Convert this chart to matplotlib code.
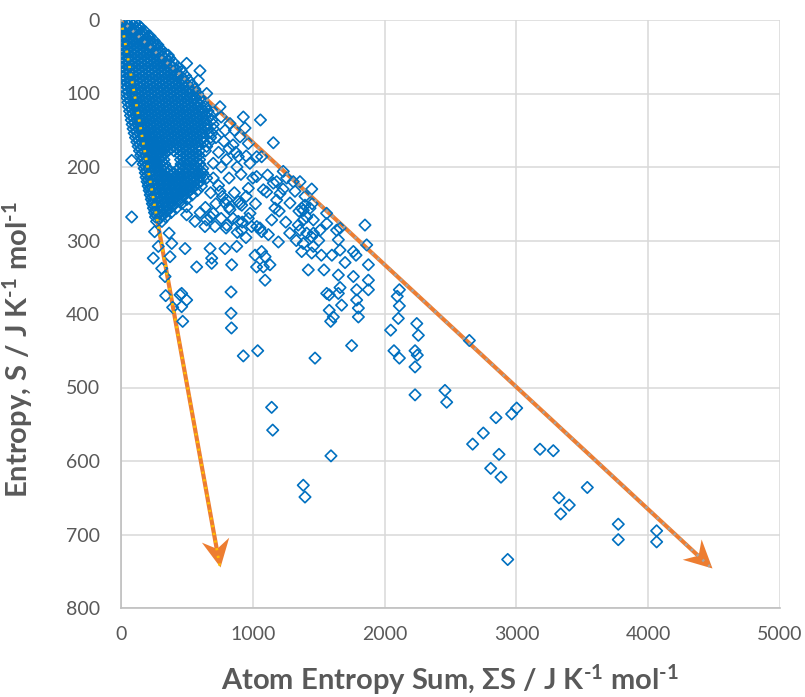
import numpy as np
import matplotlib
matplotlib.use("Agg")
import matplotlib.pyplot as plt
from matplotlib.patches import FancyArrowPatch
from matplotlib.markers import MarkerStyle
from matplotlib.path import Path
from matplotlib.transforms import Affine2D

plt.rcParams['font.family'] = ['Lato', 'DejaVu Sans']
plt.rcParams['mathtext.fontset'] = 'custom'
plt.rcParams['mathtext.rm'] = 'Lato:bold'
plt.rcParams['mathtext.default'] = 'rm'

# dense core of the cloud: entropy -> atom entropy sums at that level
core_rows = {
    4: [0, 35, 75, 110],
    10: [0, 40, 80, 118, 150],
    16: [2, 42, 85, 125, 160, 185],
    22: [4, 45, 88, 130, 170, 205, 220],
    28: [5, 48, 92, 135, 178, 215, 250],
    34: [6, 50, 95, 140, 185, 228, 262, 280],
    40: [7, 52, 98, 145, 190, 235, 272, 305],
    46: [8, 55, 100, 148, 195, 240, 285, 335],
    52: [9, 58, 104, 150, 198, 245, 292, 335, 370],
    58: [10, 60, 106, 155, 202, 250, 296, 342, 400],
    64: [12, 62, 110, 158, 205, 255, 300, 348, 392, 430],
    70: [15, 64, 112, 160, 210, 258, 305, 352, 398, 460],
    76: [18, 66, 115, 165, 212, 262, 310, 358, 405, 450, 490],
    82: [22, 70, 118, 168, 216, 265, 314, 362, 410, 458, 515],
    88: [26, 74, 122, 172, 220, 270, 318, 366, 415, 462, 505, 540],
    94: [30, 78, 126, 176, 225, 274, 322, 370, 420, 468, 512, 560],
    100: [38, 84, 132, 180, 230, 278, 326, 375, 424, 472, 520, 580],
    106: [45, 90, 138, 186, 235, 284, 332, 380, 428, 476, 525, 565, 600],
    112: [52, 96, 144, 192, 240, 288, 336, 385, 432, 480, 530, 575, 620],
    118: [58, 102, 150, 198, 246, 294, 342, 390, 438, 486, 535, 582, 640],
    124: [65, 108, 156, 204, 252, 300, 348, 396, 444, 492, 540, 590, 632, 660],
    130: [72, 115, 162, 210, 258, 306, 354, 402, 450, 498, 546, 595, 640, 680],
    136: [78, 122, 168, 216, 264, 312, 360, 408, 456, 504, 552, 600, 648, 690],
    142: [85, 128, 175, 222, 270, 318, 366, 414, 462, 510, 558, 605, 655, 700],
    148: [92, 135, 182, 228, 276, 324, 372, 420, 468, 516, 564, 612, 660, 700],
    154: [100, 142, 188, 235, 282, 330, 378, 426, 474, 522, 570, 618, 665, 690],
    160: [110, 150, 195, 242, 288, 336, 384, 432, 480, 528, 576, 625, 680],
    166: [120, 160, 204, 250, 296, 342, 390, 438, 486, 534, 582, 630, 670],
    172: [130, 170, 214, 258, 304, 350, 396, 444, 492, 540, 588, 650],
    178: [140, 180, 222, 266, 312, 356, 402, 450, 498, 546, 594, 640],
    184: [150, 192, 232, 276, 320, 448, 496, 544, 592],
    190: [160, 200, 242, 286, 326, 452, 500, 548, 596],
    196: [168, 208, 250, 294, 332, 456, 504, 552, 598],
    202: [176, 216, 258, 302, 345, 440, 488, 536, 584, 620],
    208: [184, 224, 266, 310, 354, 400, 446, 494, 542, 590, 620],
    214: [190, 232, 274, 318, 362, 408, 454, 500, 548, 596, 620],
    220: [198, 240, 282, 326, 370, 414, 460, 506, 554, 600],
    226: [206, 248, 290, 334, 378, 422, 468, 514, 560, 610],
    232: [214, 256, 298, 342, 386, 430, 476, 522, 580],
    238: [222, 264, 306, 350, 394, 438, 484, 540],
    244: [230, 272, 314, 358, 402, 446, 500],
    250: [238, 280, 322, 366, 410, 460],
    256: [246, 288, 330, 374, 420],
    262: [254, 296, 338, 380],
    268: [262, 302, 340],
    274: [270, 310],
}

# more points packed between the core rows (the core is solid in the original)
core_fill = {
    7: [18, 55, 92],
    13: [20, 60, 100, 135],
    19: [22, 64, 106, 145, 175],
    25: [25, 68, 112, 155, 195],
    31: [28, 72, 118, 162, 206, 245],
    37: [30, 75, 122, 168, 212, 255],
    43: [32, 78, 124, 172, 218, 262, 300],
    49: [34, 80, 126, 174, 222, 268, 312],
    55: [35, 82, 130, 178, 226, 272, 318, 360],
    61: [36, 84, 132, 180, 230, 278, 325, 370],
    67: [38, 88, 136, 184, 234, 282, 330, 375, 420],
    73: [40, 90, 138, 186, 236, 284, 330, 378, 425],
    79: [42, 92, 140, 190, 240, 288, 336, 384, 432, 470],
    85: [48, 96, 145, 194, 244, 292, 342, 390, 438, 485],
    91: [52, 100, 150, 198, 248, 296, 345, 394, 442, 490],
    97: [58, 108, 156, 205, 254, 302, 350, 400, 448, 496, 540],
    103: [65, 112, 160, 210, 258, 308, 356, 404, 452, 500, 545],
    109: [72, 118, 166, 214, 262, 312, 360, 408, 456, 505, 552],
    115: [78, 124, 172, 220, 268, 318, 366, 414, 462, 510, 558, 600],
    121: [85, 130, 178, 226, 274, 322, 370, 418, 466, 514, 562, 610],
    127: [92, 136, 184, 232, 280, 328, 376, 424, 472, 520, 568, 615],
    133: [98, 142, 190, 238, 286, 334, 382, 430, 478, 526, 574, 620],
    139: [105, 150, 196, 244, 292, 340, 388, 436, 484, 532, 580, 628],
    145: [112, 156, 202, 250, 298, 346, 394, 442, 490, 538, 586, 634],
    151: [120, 162, 208, 256, 304, 352, 400, 448, 496, 544, 592],
    157: [128, 170, 216, 262, 310, 358, 406, 454, 502, 550, 598],
    163: [136, 178, 222, 268, 316, 364, 412, 460, 508, 556, 604],
    169: [144, 186, 230, 276, 322, 370, 418, 466, 514, 562],
    175: [152, 196, 240, 284, 330, 378, 426, 474, 522, 568],
    181: [162, 206, 250, 294, 336, 470, 518, 566],
    187: [170, 214, 258, 302, 474, 522, 570],
    193: [178, 222, 266, 310, 478, 526, 574],
    199: [186, 230, 274, 318, 470, 514, 560],
    205: [192, 236, 280, 326, 372, 422, 468, 516, 562, 604],
    211: [198, 244, 288, 334, 380, 426, 472, 520, 570],
    217: [204, 250, 296, 342, 388, 434, 480, 526, 574],
    223: [210, 256, 302, 348, 394, 440, 486, 532, 578],
    229: [218, 264, 310, 356, 402, 448, 494, 540],
    235: [226, 272, 318, 364, 410, 456, 500],
    241: [234, 280, 326, 372, 418, 462],
    247: [242, 288, 334, 380, 426],
    253: [250, 296, 342, 388],
    259: [258, 302, 346],
    265: [266, 310],
}

# scattered points around the core (atom entropy sum, entropy)
mid_points = [
    (131, 7), (195, 27), (359, 48), (498, 59), (599, 69), (587, 82), (650, 100),
    (751, 118), (700, 125), (760, 132), (827, 141), (928, 132), (1058, 136),
    (941, 147), (790, 150), (860, 150), (720, 160), (903, 159), (780, 165),
    (966, 168), (1156, 167), (850, 170), (820, 175), (870, 180), (740, 180),
    (890, 186), (1030, 186), (1067, 186), (950, 185), (800, 190), (700, 195),
    (978, 195), (760, 200), (880, 200), (910, 210), (1231, 206), (1112, 211),
    (1029, 213), (1000, 215), (820, 215), (700, 215), (650, 215), (1257, 215),
    (1307, 220), (1358, 220), (1181, 220), (1156, 222), (740, 225), (966, 229),
    (1447, 230), (1080, 231), (1230, 230), (1320, 233), (751, 233), (680, 235),
    (860, 235), (1206, 236), (1105, 234), (1396, 240), (770, 240), (950, 240),
    (1181, 245), (802, 245), (890, 247), (720, 250), (900, 250), (1020, 250),
    (1282, 249), (1450, 250), (789, 249), (916, 252), (1396, 252), (1434, 256),
    (1371, 256), (1168, 256), (820, 255), (640, 255), (498, 254), (827, 258),
    (1383, 259), (1200, 260), (1350, 260), (600, 262), (700, 263), (979, 263),
    (1560, 263), (498, 265), (680, 268), (1409, 268), (966, 270), (760, 270),
    (850, 270), (1459, 272), (1383, 272), (650, 272), (1143, 272), (561, 274),
    (890, 274), (920, 275), (1250, 275), (1561, 277), (1851, 279), (1345, 279),
    (802, 279), (637, 281), (713, 281), (991, 281), (1030, 281), (1054, 283),
    (797, 283), (1662, 283), (915, 286), (1358, 286), (1510, 286), (1636, 286),
    (882, 289), (1067, 288), (1280, 290), (1409, 290), (1460, 290), (1118, 292),
    (1446, 295), (948, 296), (1649, 299), (1330, 300), (1500, 300), (1194, 302),
    (385, 304), (1383, 304), (1864, 306), (283, 308), (878, 308), (1459, 308),
    (486, 311), (789, 311), (676, 311), (1662, 313), (1067, 315), (1371, 315),
    (1763, 315), (1447, 317), (1017, 320), (1520, 320), (1600, 320), (1783, 320),
    (372, 322), (1093, 322), (245, 324), (688, 324), (688, 331), (1700, 330),
    (840, 333), (1130, 333), (1877, 333), (1029, 336), (1080, 336), (574, 336),
    (309, 338), (1540, 340), (1421, 340), (1649, 347), (334, 349), (1763, 349),
    (1093, 354), (1877, 354), (1662, 364), (1788, 367), (1877, 367), (835, 370),
    (1561, 372), (460, 372), (1649, 372), (1580, 374), (339, 375), (448, 374),
    (498, 381), (1788, 381), (1674, 388), (392, 391), (460, 390), (1801, 392),
    (1580, 395), (835, 399), (1611, 404), (1801, 404), (468, 410), (1591, 410),
    (838, 419), (1750, 443), (1037, 450), (928, 457), (1472, 460), (81, 191),
    (81, 268), (255, 288), (365, 290), (1143, 527), (1151, 558), (1593, 593),
    (1383, 633), (1396, 649),
]

# large molecules, far from the core
far_points = [
    (2112, 367), (2096, 376), (2112, 389), (2104, 406), (2046, 422), (2071, 450),
    (2112, 460), (2244, 413), (2256, 429), (2231, 450), (2248, 456), (2231, 472),
    (2231, 510), (2643, 436), (2458, 504), (2471, 520), (2845, 541), (2964, 536),
    (3002, 528), (2749, 562), (2668, 577), (2868, 591), (2805, 610), (2883, 622),
    (3179, 584), (3280, 586), (3538, 636), (3323, 650), (3401, 660), (3336, 672),
    (3773, 686), (3773, 707), (4064, 695), (4064, 710), (2934, 734),
]

# guide arrows from the origin (atom entropy sum, entropy of the tip)
steep_tip = (751, 744)
shallow_tip = (4482, 746)

atom_sum = []
entropy = []
for rows in (core_rows, core_fill):
    for s, xs in rows.items():
        atom_sum += xs
        entropy += [s] * len(xs)
for x, s in mid_points + far_points:
    atom_sum.append(x)
    entropy.append(s)

fig = plt.figure(figsize=(8.05, 6.97), dpi=100)
ax = fig.add_axes([121 / 805, 1 - 608 / 697, 659 / 805, 588 / 697])
ax.set_xlim(0, 5000)
ax.set_ylim(800, 0)

orange = '#ED7D31'
grey = '#595959'

# "stealth" arrow head, pointing along +x with the tip at the origin
stealth = Path([(0, 0), (-1, 0.5), (-0.68, 0), (-1, -0.5), (0, 0)],
               [Path.MOVETO, Path.LINETO, Path.LINETO, Path.LINETO, Path.CLOSEPOLY])

for tip, dots in ((steep_tip, '#FFC000'), (shallow_tip, '#A5A5A5')):
    shaft = FancyArrowPatch((0, 0), tip, arrowstyle='-', color=orange, lw=3,
                            shrinkA=0, shrinkB=12, zorder=2)
    ax.add_patch(shaft)
    p0 = ax.transData.transform((0, 0))
    p1 = ax.transData.transform(tip)
    angle = np.degrees(np.arctan2(p1[1] - p0[1], p1[0] - p0[0]))
    head = MarkerStyle(stealth, transform=Affine2D().rotate_deg(angle))
    ax.plot(tip[0], tip[1], marker=head, markersize=40, color=orange,
            markeredgewidth=0, zorder=4, clip_on=False)
    ax.plot([0, tip[0]], [0, tip[1]], color=dots, lw=2.0,
            linestyle=(0, (0.8, 2.0)), zorder=5)

ax.scatter(atom_sum, entropy, marker='D', s=34, facecolors='none',
           edgecolors='#0070C0', linewidths=1.2, zorder=3)

ax.set_xticks(np.arange(0, 5001, 1000))
ax.set_yticks(np.arange(0, 801, 100))
ax.grid(True, color='#D9D9D9', lw=1.1)
ax.set_axisbelow(True)
for side in ('top', 'right'):
    ax.spines[side].set_visible(False)
for side in ('left', 'bottom'):
    ax.spines[side].set_color('#BFBFBF')
    ax.spines[side].set_linewidth(1.2)
ax.tick_params(length=0, labelsize=14, labelcolor=grey)
ax.tick_params(axis='y', pad=15)
ax.tick_params(axis='x', pad=13)

ax.set_xlabel('Atom Entropy Sum, \u03a3S / J K$^{\u2010 1}$ mol$^{\u2010 1}$', fontsize=21,
              fontweight='bold', color=grey)
ax.set_ylabel('Entropy, S / J K$^{\u2010 1}$ mol$^{\u2010 1}$', fontsize=21,
              fontweight='bold', color=grey)
ax.xaxis.set_label_coords(0.5, -0.093)
ax.yaxis.set_label_coords(-0.13, 0.44)

fig.savefig('out.png', dpi=100)
